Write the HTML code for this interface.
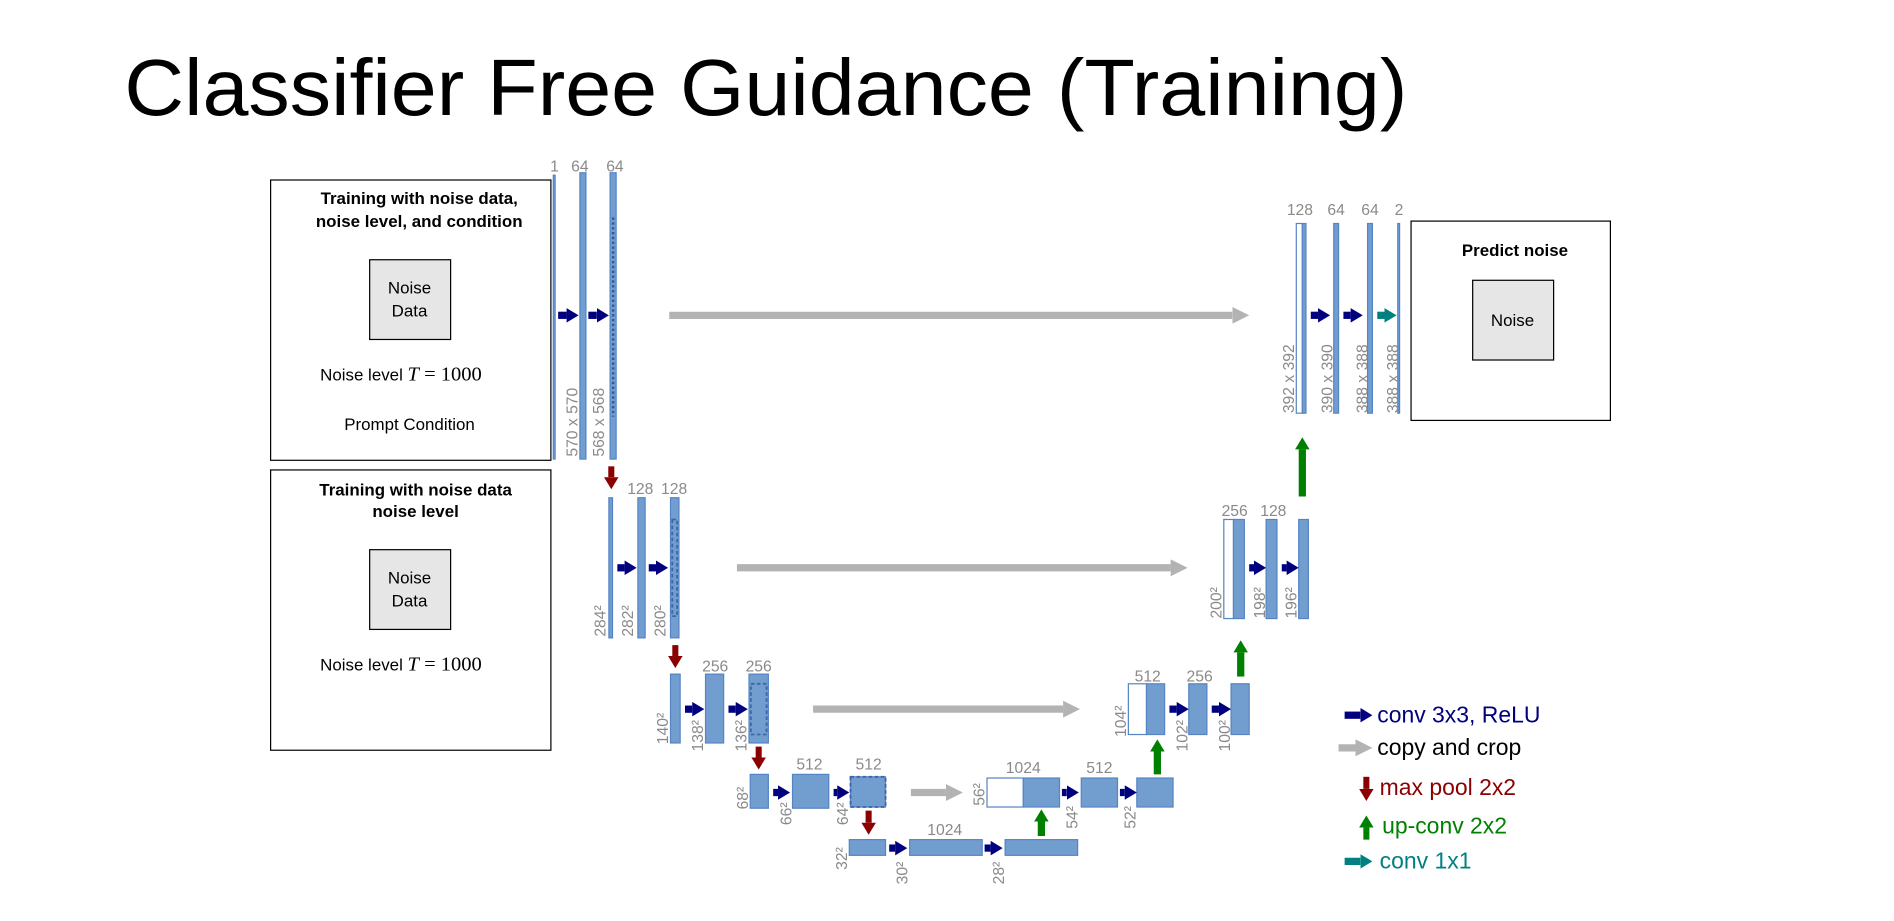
<!DOCTYPE html>
<html><head><meta charset="utf-8"><style>
html,body{margin:0;padding:0;background:#fff;width:1894px;height:921px;overflow:hidden}
#w{transform:scale(1.2081);transform-origin:0 0;width:1568px;height:763px}
svg text{font-family:"Liberation Sans",sans-serif}
.b{fill:#729ecf;stroke:#5584c4;stroke-width:1}
.wb{fill:#fff;stroke:#5584c4;stroke-width:1}
.d{fill:none;stroke:#3b66a8;stroke-width:1.5;stroke-dasharray:3,2}
.l{fill:#8a8a8a;font-size:13px}
.v{fill:#8a8a8a;font-size:13px}
.bx{fill:#fff;stroke:#000;stroke-width:1}
.nd{fill:#e6e6e6;stroke:#000;stroke-width:1}
.t{font-size:14px;fill:#000}
.tb{font-size:14px;font-weight:bold;fill:#000}
</style></head><body><div id="w">
<svg width="1568" height="763" viewBox="0 0 1568 763" xmlns="http://www.w3.org/2000/svg">
<defs>
<marker id="mn" markerUnits="userSpaceOnUse" markerWidth="10" markerHeight="12" refX="0" refY="6" orient="auto"><path d="M0,0L10,6L0,12z" fill="#00007f"/></marker>
<marker id="mt" markerUnits="userSpaceOnUse" markerWidth="10" markerHeight="12" refX="0" refY="6" orient="auto"><path d="M0,0L10,6L0,12z" fill="#008080"/></marker>
<marker id="mg" markerUnits="userSpaceOnUse" markerWidth="14" markerHeight="14" refX="0" refY="7" orient="auto"><path d="M0,0L14,7L0,14z" fill="#b3b3b3"/></marker>
<marker id="mr" markerUnits="userSpaceOnUse" markerWidth="10" markerHeight="12" refX="0" refY="6" orient="auto"><path d="M0,0L10,6L0,12z" fill="#8b0000"/></marker>
<marker id="mgr" markerUnits="userSpaceOnUse" markerWidth="10" markerHeight="12" refX="0" refY="6" orient="auto"><path d="M0,0L10,6L0,12z" fill="#008000"/></marker>
</defs>
<text x="103" y="95" font-size="66" textLength="1062" lengthAdjust="spacingAndGlyphs" fill="#000">Classifier Free Guidance (Training)</text>

<rect class="bx" x="224" y="149" width="232" height="232"/>
<text class="tb" x="347" y="169" text-anchor="middle">Training with noise data,</text>
<text class="tb" x="347" y="188" text-anchor="middle">noise level, and condition</text>
<rect class="nd" x="306" y="215" width="67" height="66"/>
<text class="t" x="339" y="243" text-anchor="middle">Noise</text>
<text class="t" x="339" y="262" text-anchor="middle">Data</text>
<text class="t" x="265" y="315">Noise level <tspan font-family="Liberation Serif" font-style="italic" font-size="17">T</tspan><tspan font-family="Liberation Serif" font-size="17"> = 1000</tspan></text>
<text class="t" x="339" y="356" text-anchor="middle">Prompt Condition</text>
<rect class="bx" x="224" y="389" width="232" height="232"/>
<text class="tb" x="344" y="410" text-anchor="middle">Training with noise data</text>
<text class="tb" x="344" y="428" text-anchor="middle">noise level</text>
<rect class="nd" x="306" y="455" width="67" height="66"/>
<text class="t" x="339" y="483" text-anchor="middle">Noise</text>
<text class="t" x="339" y="502" text-anchor="middle">Data</text>
<text class="t" x="265" y="555">Noise level <tspan font-family="Liberation Serif" font-style="italic" font-size="17">T</tspan><tspan font-family="Liberation Serif" font-size="17"> = 1000</tspan></text>
<rect class="bx" x="1168" y="183" width="165" height="165"/>
<text class="tb" x="1254" y="212" text-anchor="middle">Predict noise</text>
<rect class="nd" x="1219" y="232" width="67" height="66"/>
<text class="t" x="1252" y="270" text-anchor="middle">Noise</text>

<rect class="b" x="458" y="145" width="1.5" height="235"/>
<rect class="b" x="480" y="143" width="5" height="237"/>
<rect class="b" x="505" y="143" width="5" height="237"/>
<line x1="507.5" y1="180" x2="507.5" y2="345" stroke="#2e5a9c" stroke-width="2" stroke-dasharray="2,2"/>
<text class="l" x="459" y="142" text-anchor="middle">1</text>
<text class="l" x="480" y="142" text-anchor="middle">64</text>
<text class="l" x="509" y="142" text-anchor="middle">64</text>
<text class="v" transform="translate(478,378) rotate(-90)">570 x 570</text>
<text class="v" transform="translate(500,378) rotate(-90)">568 x 568</text>
<line x1="462" y1="261" x2="469" y2="261" stroke="#00007f" stroke-width="6" marker-end="url(#mn)"/>
<line x1="487" y1="261" x2="494" y2="261" stroke="#00007f" stroke-width="6" marker-end="url(#mn)"/>
<line x1="554" y1="261" x2="1020" y2="261" stroke="#b3b3b3" stroke-width="6" marker-end="url(#mg)"/>

<rect class="wb" x="1073" y="185" width="5" height="157"/>
<rect class="b" x="1078" y="185" width="3" height="157"/>
<rect class="b" x="1104" y="185" width="4" height="157"/>
<rect class="b" x="1132" y="185" width="4" height="157"/>
<rect class="b" x="1157" y="185" width="1.5" height="157"/>
<text class="l" x="1076" y="178" text-anchor="middle">128</text>
<text class="l" x="1106" y="178" text-anchor="middle">64</text>
<text class="l" x="1134" y="178" text-anchor="middle">64</text>
<text class="l" x="1158" y="178" text-anchor="middle">2</text>
<text class="v" transform="translate(1071,342) rotate(-90)">392 x 392</text>
<text class="v" transform="translate(1103,342) rotate(-90)">390 x 390</text>
<text class="v" transform="translate(1132,342) rotate(-90)">388 x 388</text>
<text class="v" transform="translate(1157,342) rotate(-90)">388 x 388</text>
<line x1="1085" y1="261" x2="1091" y2="261" stroke="#00007f" stroke-width="6" marker-end="url(#mn)"/>
<line x1="1112" y1="261" x2="1118" y2="261" stroke="#00007f" stroke-width="6" marker-end="url(#mn)"/>
<line x1="1140" y1="261" x2="1146" y2="261" stroke="#008080" stroke-width="6" marker-end="url(#mt)"/>
<line x1="1078" y1="411" x2="1078" y2="372" stroke="#008000" stroke-width="6" marker-end="url(#mgr)"/>

<line x1="506" y1="386" x2="506" y2="395" stroke="#8b0000" stroke-width="5" marker-end="url(#mr)"/>
<rect class="b" x="504" y="412" width="3" height="116"/>
<rect class="b" x="528" y="412" width="6" height="116"/>
<rect class="b" x="555" y="412" width="7" height="116"/>
<rect class="d" x="556.5" y="430" width="4" height="80"/>
<text class="l" x="530" y="409" text-anchor="middle">128</text>
<text class="l" x="558" y="409" text-anchor="middle">128</text>
<text class="v" transform="translate(501,527) rotate(-90)">284²</text>
<text class="v" transform="translate(524,527) rotate(-90)">282²</text>
<text class="v" transform="translate(551,527) rotate(-90)">280²</text>
<line x1="511" y1="470" x2="517" y2="470" stroke="#00007f" stroke-width="6" marker-end="url(#mn)"/>
<line x1="537" y1="470" x2="543" y2="470" stroke="#00007f" stroke-width="6" marker-end="url(#mn)"/>
<line x1="610" y1="470" x2="969" y2="470" stroke="#b3b3b3" stroke-width="6" marker-end="url(#mg)"/>
<rect class="wb" x="1013" y="430" width="8" height="82"/>
<rect class="b" x="1021" y="430" width="9" height="82"/>
<rect class="b" x="1048" y="430" width="9" height="82"/>
<rect class="b" x="1075" y="430" width="8" height="82"/>
<text class="l" x="1022" y="427" text-anchor="middle">256</text>
<text class="l" x="1054" y="427" text-anchor="middle">128</text>
<text class="v" transform="translate(1011,512) rotate(-90)">200²</text>
<text class="v" transform="translate(1047,512) rotate(-90)">198²</text>
<text class="v" transform="translate(1073,512) rotate(-90)">196²</text>
<line x1="1034" y1="470" x2="1038" y2="470" stroke="#00007f" stroke-width="6" marker-end="url(#mn)"/>
<line x1="1061" y1="470" x2="1065" y2="470" stroke="#00007f" stroke-width="6" marker-end="url(#mn)"/>
<line x1="1027" y1="560" x2="1027" y2="540" stroke="#008000" stroke-width="6" marker-end="url(#mgr)"/>

<line x1="559" y1="534" x2="559" y2="543" stroke="#8b0000" stroke-width="5" marker-end="url(#mr)"/>
<rect class="b" x="555" y="558" width="8" height="57"/>
<rect class="b" x="584" y="558" width="15" height="57"/>
<rect class="b" x="620" y="558" width="16" height="57"/>
<rect class="d" x="621.5" y="566" width="13" height="42"/>
<text class="l" x="592" y="556" text-anchor="middle">256</text>
<text class="l" x="628" y="556" text-anchor="middle">256</text>
<text class="v" transform="translate(553,616) rotate(-90)">140²</text>
<text class="v" transform="translate(582,622) rotate(-90)">138²</text>
<text class="v" transform="translate(618,622) rotate(-90)">136²</text>
<line x1="567" y1="587" x2="573" y2="587" stroke="#00007f" stroke-width="6" marker-end="url(#mn)"/>
<line x1="603" y1="587" x2="609" y2="587" stroke="#00007f" stroke-width="6" marker-end="url(#mn)"/>
<line x1="673" y1="587" x2="880" y2="587" stroke="#b3b3b3" stroke-width="6" marker-end="url(#mg)"/>
<rect class="wb" x="934" y="566" width="15" height="42"/>
<rect class="b" x="949" y="566" width="15" height="42"/>
<rect class="b" x="984" y="566" width="15" height="42"/>
<rect class="b" x="1019" y="566" width="15" height="42"/>
<text class="l" x="950" y="564" text-anchor="middle">512</text>
<text class="l" x="993" y="564" text-anchor="middle">256</text>
<text class="v" transform="translate(932,610) rotate(-90)">104²</text>
<text class="v" transform="translate(983,622) rotate(-90)">102²</text>
<text class="v" transform="translate(1018,622) rotate(-90)">100²</text>
<line x1="968" y1="587" x2="974" y2="587" stroke="#00007f" stroke-width="6" marker-end="url(#mn)"/>
<line x1="1003" y1="587" x2="1009" y2="587" stroke="#00007f" stroke-width="6" marker-end="url(#mn)"/>
<line x1="958" y1="641" x2="958" y2="622" stroke="#008000" stroke-width="6" marker-end="url(#mgr)"/>

<line x1="628" y1="618" x2="628" y2="627" stroke="#8b0000" stroke-width="5" marker-end="url(#mr)"/>
<rect class="b" x="621" y="641" width="15" height="28"/>
<rect class="b" x="656" y="641" width="30" height="28"/>
<rect class="b" x="704" y="643" width="29" height="25"/>
<rect class="d" x="704" y="643" width="29" height="25"/>
<text class="l" x="670" y="637" text-anchor="middle">512</text>
<text class="l" x="719" y="637" text-anchor="middle">512</text>
<text class="v" transform="translate(619,670) rotate(-90)">68²</text>
<text class="v" transform="translate(655,683) rotate(-90)">66²</text>
<text class="v" transform="translate(702,683) rotate(-90)">64²</text>
<line x1="640" y1="656" x2="644" y2="656" stroke="#00007f" stroke-width="6" marker-end="url(#mn)"/>
<line x1="690" y1="656" x2="693" y2="656" stroke="#00007f" stroke-width="6" marker-end="url(#mn)"/>
<line x1="754" y1="656" x2="783" y2="656" stroke="#b3b3b3" stroke-width="6" marker-end="url(#mg)"/>
<rect class="wb" x="817" y="644" width="30" height="24"/>
<rect class="b" x="847" y="644" width="30" height="24"/>
<rect class="b" x="895" y="644" width="30" height="24"/>
<rect class="b" x="941" y="644" width="30" height="24"/>
<text class="l" x="847" y="640" text-anchor="middle">1024</text>
<text class="l" x="910" y="640" text-anchor="middle">512</text>
<text class="v" transform="translate(815,667) rotate(-90)">56²</text>
<text class="v" transform="translate(892,686) rotate(-90)">54²</text>
<text class="v" transform="translate(940,686) rotate(-90)">52²</text>
<line x1="879" y1="656" x2="883" y2="656" stroke="#00007f" stroke-width="6" marker-end="url(#mn)"/>
<line x1="927" y1="656" x2="931" y2="656" stroke="#00007f" stroke-width="6" marker-end="url(#mn)"/>
<line x1="862" y1="692" x2="862" y2="680" stroke="#008000" stroke-width="6" marker-end="url(#mgr)"/>

<line x1="719" y1="671" x2="719" y2="681" stroke="#8b0000" stroke-width="5" marker-end="url(#mr)"/>
<rect class="b" x="703" y="695" width="30" height="13"/>
<rect class="b" x="753" y="695" width="60" height="13"/>
<rect class="b" x="832" y="695" width="60" height="13"/>
<text class="l" x="782" y="691" text-anchor="middle">1024</text>
<text class="v" transform="translate(701,720) rotate(-90)">32²</text>
<text class="v" transform="translate(751,732) rotate(-90)">30²</text>
<text class="v" transform="translate(831,732) rotate(-90)">28²</text>
<line x1="736" y1="702" x2="741" y2="702" stroke="#00007f" stroke-width="6" marker-end="url(#mn)"/>
<line x1="815" y1="702" x2="820" y2="702" stroke="#00007f" stroke-width="6" marker-end="url(#mn)"/>

<line x1="1113" y1="592" x2="1126" y2="592" stroke="#00007f" stroke-width="6" marker-end="url(#mn)"/>
<text x="1140" y="598" font-size="19" fill="#00007f">conv 3x3, ReLU</text>
<line x1="1108" y1="619" x2="1122" y2="619" stroke="#b3b3b3" stroke-width="6" marker-end="url(#mg)"/>
<text x="1140" y="625" font-size="19" fill="#000">copy and crop</text>
<line x1="1131" y1="643" x2="1131" y2="653" stroke="#8b0000" stroke-width="5" marker-end="url(#mr)"/>
<text x="1142" y="658" font-size="19" fill="#8b0000">max pool 2x2</text>
<line x1="1131" y1="695" x2="1131" y2="685" stroke="#008000" stroke-width="5" marker-end="url(#mgr)"/>
<text x="1144" y="690" font-size="19" fill="#008000">up-conv 2x2</text>
<line x1="1113" y1="713" x2="1126" y2="713" stroke="#008080" stroke-width="6" marker-end="url(#mt)"/>
<text x="1142" y="719" font-size="19" fill="#008080">conv 1x1</text>
</svg></div></body></html>
